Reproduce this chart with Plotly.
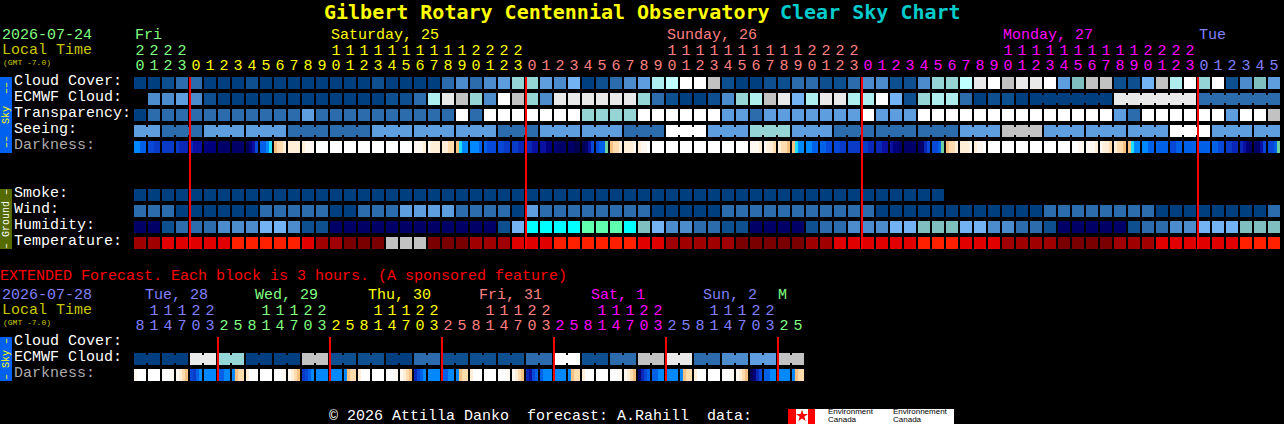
import plotly.graph_objects as go

# palette of block colours, the rows below hold indexes into it
block_colors = [
    "#003F7F", "#0E4F8F", "#2C6CAC", "#4C8CCC", "#5E9EDE", "#73B3F3", "#7FBFBF", "#95D5D5",
    "#AFEEEE", "#BFFFFF", "#C2C2C2", "#E9E9E9", "#FFFFFF", "#000066", "#00FFFF", "#5FFFAF",
    "#7A0000", "#A00000", "#E00000", "#FF2000",
]
# darkness colours, one hex digit per 3 pixel slice of a block
dark_colors = dict(zip("0123456789abcdef", [
    "#000050", "#000068", "#00007C", "#0A10A0", "#0A28B8", "#0A3AC8", "#0848D8", "#0060E8",
    "#0088FF", "#20E0FF", "#F5C080", "#FFDCAE", "#FFEED8", "#FFF8F0", "#FFFFFF", "#70D0A0",
]))

hours = [20, 21, 22, 23,
         0, 1, 2, 3, 4, 5, 6, 7, 8, 9, 10, 11, 12, 13, 14, 15, 16, 17, 18, 19, 20, 21, 22, 23,
         0, 1, 2, 3, 4, 5, 6, 7, 8, 9, 10, 11, 12, 13, 14, 15, 16, 17, 18, 19, 20, 21, 22, 23,
         0, 1, 2, 3, 4, 5, 6, 7, 8, 9, 10, 11, 12, 13, 14, 15, 16, 17, 18, 19, 20, 21, 22, 23,
         0, 1, 2, 3, 4, 5]
day_names = ["Fri", "Saturday, 25", "Sunday, 26", "Monday, 27", "Tue"]
day_label_cols = [0, 14, 38, 62, 76]
day_first_cols = [0, 4, 28, 52, 76]
day_colors = ["#80FF80", "#FFFF00", "#FF8080", "#FF00FF", "#8080FF"]
midnight_cols = [4, 28, 52, 76]

cloud_cover = [0, 0, 1, 2, 2, 0, 0, 0, 1, 0, 0, 0, 0, 0, 0, 0, 0, 1, 0, 0, 0,
               0, 2, 3, 2, 3, 4, 7, 7, 4, 3, 5, 0, 1, 2, 3, 4, 8, 9, 12, 12, 10,
               1, 0, 0, 1, 1, 2, 2, 1, 1, 2, 3, 3, 1, 1, 3, 7, 7, 9, 11, 12, 10,
               11, 11, 12, 4, 6, 10, 10, 1, 1, 5, 10, 8, 12, 7, 12, 1, 3, 6, 4]
ecmwf_cloud = [None, 3, 3, 4, 3, 1, 0, 0, 0, 0, 0, 0, 0, 0, 0, 0, 0, 0, 1, 1, 2,
               8, 11, 10, 7, 3, 12, 10, 7, 3, 11, 11, 11, 11, 11, 11, 7, 2, 1, 0, 0, 1,
               3, 7, 8, 10, 11, 5, 8, 11, 11, 8, 8, 12, 5, 1, 7, 8, 8, 2, 0, 1, 1,
               0, 0, 0, 0, 0, 0, 0, 11, 11, 11, 11, 11, 11, 2, 2, 2, 2, 2, 2]
ecmwf_groups = [1] * 64 + [6, 6, 6]
transparency = [0, 2, 2, 2, 2, 2, 2, 2, 2, 2, 2, 2, 4, 2, 2, 2, 2, 2, 2, 2, 2,
                2, 2, 12, 2, 12, 12, 12, 12, 12, 12, 12, 7, 7, 7, 7, 12, 12, 12, 12, 12, 12,
                4, 4, 2, 4, 4, 4, 4, 4, 4, 4, 12, 4, 4, 4, 12, 12, 12, 12, 12, 12, 12,
                12, 12, 12, 12, 12, 12, 12, 4, 2, 12, 12, 12, 12, 12, 12, 4, 12, 12, 10]
seeing = [4, 4, 2, 2, 2, 4, 4, 4, 4, 4, 4, 2, 2, 2, 2, 2, 2, 4, 4, 4,
          4, 4, 4, 4, 4, 4, 2, 2, 2, 4, 4, 4, 4, 4, 4, 2, 2, 2, 12, 12, 12,
          4, 4, 4, 7, 7, 7, 4, 4, 4, 2, 2, 2, 2, 2, 2, 2, 2, 2, 4, 4, 4,
          10, 10, 10, 4, 4, 4, 4, 4, 4, 4, 4, 4, 12, 12, 12, 4, 4, 4, 4, 4]
seeing_groups = [2] + [3] * 26 + [2]
darkness = ("8877 6655 5555 5444 4333 2222 1111 1111 0236 7789 abbc cccc cddd "
            "eeee eeee eeee eeee eeee eeee eeee dddc dccc ccbb a988 8887 7666 6655 "
            "5544 4433 3322 2111 1100 0136 677f abbc cccd cdde eeee eeee eeee eeee "
            "eeee eeee eeee dddc dccb cbba a988 8877 7766 6655 5555 5544 4433 3221 "
            "1111 1146 667f abbc cccd cdde eeee eeee eeee eeee eeee eeee eedd dddc "
            "dccb cbba a988 8877 7777 6677 7777 7777 7766 5544 4321 1136 667f").split()
smoke = [0] * 58
wind = [2, 2, 2, 0, 0, 0, 0, 0, 0, 2, 2, 2, 2, 2, 0, 0, 2, 2, 2, 4, 4,
        4, 4, 2, 2, 2, 2, 0, 4, 2, 2, 2, 2, 2, 2, 2, 2, 0, 0, 0, 0, 0,
        2, 2, 2, 2, 2, 2, 2, 2, 2, 2, 2, 0, 0, 0, 0, 0, 0, 0, 0, 0, 0,
        0, 0, 2, 2, 2, 2, 2, 2, 2, 2, 0, 0, 0, 0, 0, 0, 0, 0, 2]
humidity = [13, 13, 1, 2, 2, 2, 3, 3, 3, 5, 5, 3, 1, 1, 13, 13, 13, 13, 13, 13, 13,
            13, 13, 13, 13, 13, 1, 5, 14, 14, 14, 14, 15, 15, 15, 14, 6, 5, 3, 3, 2, 2,
            1, 1, 13, 13, 13, 13, 1, 2, 2, 3, 3, 3, 5, 5, 6, 6, 6, 5, 5, 3, 3,
            2, 2, 1, 13, 13, 13, 13, 13, 1, 2, 2, 3, 3, 5, 5, 5, 6, 6, 6]
temperature = [17, 17, 18, 18, 18, 18, 18, 19, 19, 19, 19, 19, 18, 17, 17, 16, 16, 16, 10, 10, 10,
               16, 16, 16, 17, 17, 17, 18, 18, 18, 19, 19, 19, 19, 19, 19, 18, 18, 17, 17, 17, 17,
               17, 16, 16, 16, 16, 16, 17, 17, 18, 18, 18, 18, 18, 18, 19, 19, 19, 18, 18, 18, 17,
               17, 17, 17, 16, 16, 16, 16, 17, 17, 17, 18, 18, 18, 18, 18, 18, 19, 19, 19]

# extended forecast, 3 hour blocks
ext_hours = [8, 11, 14, 17, 20, 23,
             2, 5, 8, 11, 14, 17, 20, 23,
             2, 5, 8, 11, 14, 17, 20, 23,
             2, 5, 8, 11, 14, 17, 20, 23,
             2, 5, 8, 11, 14, 17, 20, 23,
             2, 5, 8, 11, 14, 17, 20, 23,
             2, 5]
ext_day_names = ["Tue, 28", "Wed, 29", "Thu, 30", "Fri, 31", "Sat, 1", "Sun, 2", "M"]
ext_day_px = [145, 255, 368, 479, 591, 703, 778]
ext_first_cols = [0, 6, 14, 22, 30, 38, 46]
ext_day_colors = ["#8080FF", "#80FF80", "#FFFF00", "#FF8080", "#FF00FF", "#8080FF", "#80FF80"]
ext_midnight_cols = [6, 14, 22, 30, 38, 46]
ext_ecmwf = [0, 0, 0, 0, 11, 11, 7, 7, 0, 0, 0, 0, 10, 10, 1, 1, 1, 1, 0, 0, 2, 2, 1, 1,
             1, 1, 1, 1, 2, 2, 12, 12, 1, 1, 2, 2, 10, 10, 11, 11, 2, 2, 3, 3, 4, 4, 10, 10]
ext_groups = [2] * 24
ext_darkness = ("deee eeee eeed dcba 6578 8888 7788 8abb ceee eeee eeed dcba "
                "5678 8888 8888 8abb ceee eeee eeed dcba 4678 8888 7788 8abb "
                "ceee eeee eeed dcba 4367 7888 8888 8abb ceee eeee eeed dcba "
                "1467 7788 8888 8abb ceee eeee eeed dcba 0246 7788 8888 8abb").split()

main_rows = [("Cloud Cover:", 81, "#FFFFFF"), ("ECMWF Cloud:", 97, "#FFFFFF"),
             ("Transparency:", 113, "#FFFFFF"), ("Seeing:", 129, "#FFFFFF"),
             ("Darkness:", 145, "#AAAAAA"), ("Smoke:", 193, "#FFFFFF"), ("Wind:", 209, "#FFFFFF"),
             ("Humidity:", 225, "#FFFFFF"), ("Temperature:", 241, "#FFFFFF")]
ext_rows = [("Cloud Cover:", 341, "#FFFFFF"), ("ECMWF Cloud:", 357, "#FFFFFF"),
            ("Darkness:", 373, "#AAAAAA")]

MONO = "Liberation Mono"


# pixel position to axis position: columns are 14 px apart, rows 16 px
def cx(px):
    return (px - 140) / 14


def ry(py):
    return (py - 83) / 16


fig = go.Figure()


def add_blocks(py, values, groups=None):
    xs = [i for i, v in enumerate(values) if v is not None]
    colors = [block_colors[values[i]] for i in xs]
    fig.add_trace(go.Bar(x=xs, y=[0.75] * len(xs), base=[ry(py) - 0.375] * len(xs), width=12 / 14,
                         marker=dict(color=colors, line_width=0), hoverinfo="skip"))
    if groups:
        bx = []
        start = 0
        for size in groups:
            bx += list(range(start, start + size - 1))
            start += size
        fig.add_trace(go.Bar(x=[i + 0.5 for i in bx], y=[0.5] * len(bx), base=[ry(py) - 0.25] * len(bx),
                             width=2 / 14, marker=dict(color=[block_colors[values[i]] for i in bx], line_width=0),
                             hoverinfo="skip"))


def add_darkness(py, blocks):
    xs, colors = [], []
    for i, block in enumerate(blocks):
        for k, code in enumerate(block):
            xs.append(i + (k - 1.5) * 3 / 14)
            colors.append(dark_colors[code])
    fig.add_trace(go.Bar(x=xs, y=[0.75] * len(xs), base=[ry(py) - 0.375] * len(xs), width=3 / 14,
                         marker=dict(color=colors, line_width=0), hoverinfo="skip"))


def add_hours(hour_list, first_cols, colors, tens_py, ones_py):
    col_colors = []
    for i in range(len(hour_list)):
        d = sum(1 for f in first_cols if f <= i) - 1
        col_colors.append(colors[d])
    tens = [i for i, h in enumerate(hour_list) if h >= 10]
    fig.add_trace(go.Scatter(x=tens, y=[ry(tens_py)] * len(tens), mode="text",
                             text=[str(hour_list[i] // 10) for i in tens],
                             textfont=dict(family=MONO, size=15, color=[col_colors[i] for i in tens]),
                             textposition="middle center", hoverinfo="skip"))
    fig.add_trace(go.Scatter(x=list(range(len(hour_list))), y=[ry(ones_py)] * len(hour_list), mode="text",
                             text=[str(h % 10) for h in hour_list],
                             textfont=dict(family=MONO, size=15, color=col_colors),
                             textposition="middle center", hoverinfo="skip"))


def add_red_lines(cols, top, bottom):
    xs, ys = [], []
    for c in cols:
        xs += [c - 6 / 14, c - 6 / 14, None]
        ys += [ry(top), ry(bottom), None]
    fig.add_trace(go.Scatter(x=xs, y=ys, mode="lines", line=dict(color="#FF0000", width=2), hoverinfo="skip"))


def label(text, px, py, color="#FFFFFF", size=15, anchor="left", angle=0, bold=False, family=MONO):
    fig.add_annotation(x=cx(px), y=ry(py), text=f"<b>{text}</b>" if bold else text, showarrow=False,
                       xanchor=anchor, yanchor="middle", textangle=angle, borderpad=0, borderwidth=0,
                       font=dict(family=family, size=size, color=color))


# main blocks
add_blocks(83, cloud_cover)
add_blocks(99, ecmwf_cloud, ecmwf_groups)
add_blocks(115, transparency)
add_blocks(131, seeing, seeing_groups)
add_darkness(147, darkness)
add_blocks(195, smoke)
add_blocks(211, wind)
add_blocks(227, humidity)
add_blocks(243, temperature)
add_red_lines(midnight_cols, 77, 249)

# extended blocks
add_blocks(359, ext_ecmwf, ext_groups)
add_darkness(375, ext_darkness)
add_red_lines(ext_midnight_cols, 337, 381)

add_hours(hours, day_first_cols, day_colors, 51, 66)
add_hours(ext_hours, ext_first_cols, ext_day_colors, 311, 326)

# title
label("Gilbert Rotary Centennial Observatory", 324, 12, "#FFFF00", 20, bold=True, family="DejaVu Sans Mono")
label("Clear Sky Chart", 780, 12, "#00CCCC", 20, bold=True, family="DejaVu Sans Mono")

# headers
label("2026-07-24", 2, 35, "#80FF80")
label("Local Time", 2, 50, "#C8C800")
label("(GMT -7.0)", 3, 62, "#C8C800", 8)
for name, col, color in zip(day_names, day_label_cols, day_colors):
    label(name, 135 + 14 * col, 35, color)
for text, py, color in main_rows + ext_rows:
    label(text, 14, py, color)

label("EXTENDED Forecast. Each block is 3 hours. (A sponsored feature)", 0, 276, "#FF0000")
label("2026-07-28", 2, 295, "#8080FF")
label("Local Time", 2, 310, "#C8C800")
label("(GMT -7.0)", 3, 322, "#C8C800", 8)
for name, px, color in zip(ext_day_names, ext_day_px, ext_day_colors):
    label(name, px, 295, color)

# side tabs
side_tabs = [(77, 153, "#0060F0", "––  Sky  ––", "#FFFF00"),
             (189, 249, "#556B00", "– Ground –", "#FFFFFF"),
             (337, 381, "#0060F0", "– Sky –", "#FFFF00")]
for top, bottom, fill, text, color in side_tabs:
    fig.add_shape(type="rect", x0=cx(0), x1=cx(12), y0=ry(top), y1=ry(bottom), fillcolor=fill, line_width=0, layer="below")
    label(text, 6, (top + bottom) / 2, color, 10, anchor="center", angle=-90)

# footer
label("© 2026 Attilla Danko  forecast: A.Rahill  data:", 329, 416)
fig.add_shape(type="rect", x0=cx(788), x1=cx(954), y0=ry(409), y1=ry(424), fillcolor="#FFFFFF", line_width=0, layer="below")
fig.add_shape(type="rect", x0=cx(788), x1=cx(796), y0=ry(409), y1=ry(424), fillcolor="#FF0000", line_width=0, layer="below")
fig.add_shape(type="rect", x0=cx(808), x1=cx(815), y0=ry(409), y1=ry(424), fillcolor="#FF0000", line_width=0, layer="below")
fig.add_trace(go.Scatter(x=[cx(802)], y=[ry(416)], mode="markers", marker=dict(symbol="star", size=9, color="#FF0000"), hoverinfo="skip"))
for text, px, py in [("Environment", 828, 411), ("Canada", 828, 419.5), ("Environnement", 893, 411), ("Canada", 893, 419.5)]:
    label(text, px, py, "#000000", 8, family="Liberation Sans")

fig.update_layout(
    width=1284,
    height=424,
    margin=dict(l=0, r=0, t=0, b=0, pad=0),
    paper_bgcolor="black",
    plot_bgcolor="black",
    showlegend=False,
    barmode="overlay",
    xaxis=dict(range=[cx(0), cx(1284)], visible=False, fixedrange=True),
    yaxis=dict(range=[ry(424), ry(0)], visible=False, fixedrange=True),
)

fig.write_html("out.html", config={"displayModeBar": False},
               post_script="document.body.style.margin='0';document.body.style.background='black';")
